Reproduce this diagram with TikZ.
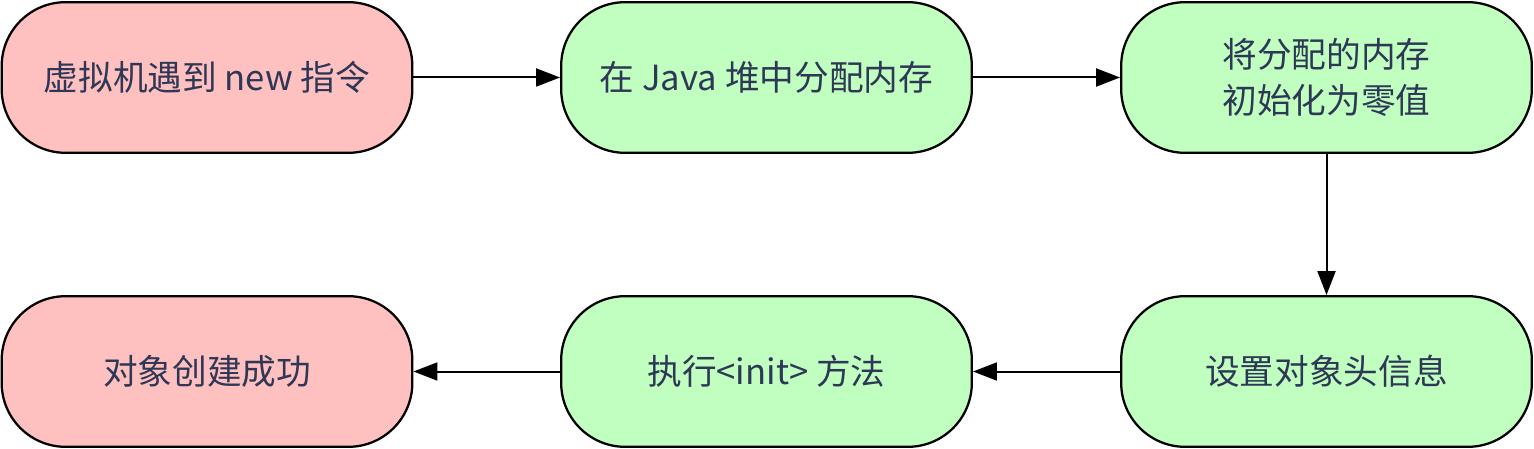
\documentclass[tikz,border=0pt]{standalone}
\usepackage{fontspec}
\setmainfont{Noto Sans CJK SC}
\usetikzlibrary{arrows.meta}
\definecolor{pinkfill}{RGB}{255,192,192}
\definecolor{greenfill}{RGB}{192,255,192}
\definecolor{txt}{RGB}{46,56,86}
\tikzset{
  stepbox/.style={draw=black, line width=1.7pt, rounded corners=48pt,
    minimum width=308pt, minimum height=113pt, inner sep=0pt,
    align=center, text=txt, font=\fontsize{26}{34}\selectfont},
  pinkbox/.style={stepbox, fill=pinkfill},
  greenbox/.style={stepbox, fill=greenfill},
  conn/.style={line width=1.5pt, -{Triangle[length=18pt, width=13.5pt]}}
}
\begin{document}
\begin{tikzpicture}[x=0.75pt, y=-0.75pt]
\useasboundingbox (0,0) rectangle (1534,449);
\node[pinkbox]  (n1) at (207,77.5)    {虚拟机遇到 new 指令};
\node[greenbox] (n2) at (766.5,77.5)  {在 Java 堆中分配内存};
\node[greenbox] (n3) at (1326.5,77.5) {将分配的内存\\初始化为零值};
\node[greenbox] (n4) at (1326.5,371.5) {设置对象头信息};
\node[greenbox] (n5) at (766.5,371.5) {执行<init> 方法};
\node[pinkbox]  (n6) at (207,371.5)   {对象创建成功};
\draw[conn] (n1) -- (n2);
\draw[conn] (n2) -- (n3);
\draw[conn] (n3) -- (n4);
\draw[conn] (n4) -- (n5);
\draw[conn] (n5) -- (n6);
\end{tikzpicture}
\end{document}
